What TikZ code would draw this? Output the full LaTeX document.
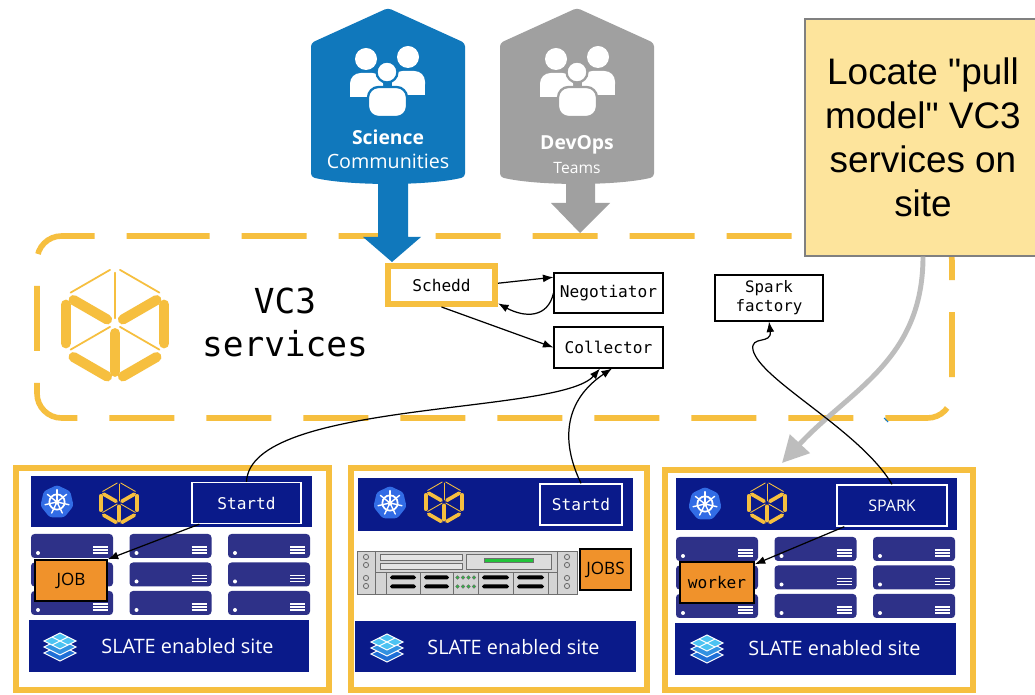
\documentclass[tikz,border=0pt]{standalone}
\usepackage{fontspec}
\setmainfont{Open Sans}
\setsansfont{Open Sans}
\setmonofont{DejaVu Sans Mono}
\newfontfamily\notefont{Liberation Sans}
\usetikzlibrary{arrows.meta,calc,positioning}

\definecolor{vcyellow}{HTML}{F6BF3F}
\definecolor{sciblue}{HTML}{1078BC}
\definecolor{devgrey}{HTML}{A0A0A0}
\definecolor{sitenavy}{HTML}{0A1A8A}
\definecolor{slotnavy}{HTML}{2E3188}
\definecolor{joborange}{HTML}{F0922B}
\definecolor{notefill}{HTML}{FDE49C}
\definecolor{notegrey}{HTML}{808080}
\definecolor{pullgrey}{HTML}{BDBDBD}
\definecolor{kubeblue}{HTML}{326CE5}
\definecolor{slatecyan}{HTML}{4CC3F2}
\definecolor{slateblue}{HTML}{1F6FD6}
\definecolor{rackgrey}{HTML}{D4D4D4}
\definecolor{rackline}{HTML}{6E6E6E}
\definecolor{ledgreen}{HTML}{22C33A}

% hexagon logo: centre, radius, bar width, hairline width
\newcommand\vclogo[4]{%
  \begin{scope}[shift={#1}, vcyellow, line cap=round]
    \foreach \a/\b in {270/210,270/330}
      \draw[line width=#4] ($(\a:#2)!.1!(\b:#2)$) -- ($(\a:#2)!.9!(\b:#2)$);
    \foreach \a in {270,150,30}
      \draw[line width=#4] ({\a}:{.1*#2}) -- ({\a}:{.9*#2});
    \foreach \a/\b in {210/150,330/30,150/90,90/30}
      \draw[line width=#3] ($(\a:#2)!.16!(\b:#2)$) -- ($(\a:#2)!.84!(\b:#2)$);
    \foreach \a in {210,330,90}
      \draw[line width=#3] ({\a}:{.16*#2}) -- ({\a}:{.84*#2});
  \end{scope}}

\newcommand\kubelogo[2]{%
  \begin{scope}[shift={#1}]
    \fill[kubeblue, rounded corners=1.5pt] (270:#2) \foreach \k in {1,...,6}{ -- ({270+\k*360/7}:#2)} -- cycle;
    \draw[white, line width=1pt] (0,0) circle[radius={.45*#2}];
    \foreach \k in {0,...,6}
      \draw[white, line width=.8pt, line cap=round] (0,0) -- ({270+\k*360/7}:{.72*#2});
    \fill[white] (0,0) circle[radius={.14*#2}];
  \end{scope}}

\newcommand\slatelogo[1]{%
  \begin{scope}[shift={#1}, line width=.6pt, draw=white]
    \filldraw[fill=slateblue] (-16,7) -- (0,-1) -- (16,7) -- (0,15) -- cycle;
    \filldraw[fill=slateblue!60!slatecyan] (-16,1) -- (0,-7) -- (16,1) -- (0,9) -- cycle;
    \filldraw[fill=slatecyan] (-16,-5) -- (0,-13) -- (16,-5) -- (0,3) -- cycle;
    \draw (-8,-9) -- (8,-1) (8,-9) -- (-8,-1);
  \end{scope}}

\newcommand\slotgrid[1]{%
  \begin{scope}[shift={#1}]
    \foreach \c in {0,1,2}
      \foreach \r in {0,1,2} {
        \begin{scope}[shift={({98.5*\c},{28.5*\r})}]
          \fill[slotnavy, rounded corners=2pt] (0,0) rectangle (82,24);
          \fill[white] (7,19) circle[radius=2];
          \foreach \s in {13,16,19}
            \draw[white, line width=1pt] (62,\s) -- (77,\s);
        \end{scope}}
  \end{scope}}

\newcommand\rackserver[1]{%
  \begin{scope}[shift={#1}, draw=rackline, line width=.5pt]
    \filldraw[fill=rackgrey] (0,0) rectangle (220,43);
    \draw (18,0) -- (18,43) (200,0) -- (200,43) (18,21) -- (200,21);
    \foreach \y in {6,14,27,35}
      \draw (9,\y) circle[radius=2.6] (210,\y) circle[radius=2.6];
    \filldraw[fill=rackgrey!60] (23,3) rectangle (105,9) (23,12) rectangle (105,18);
    \filldraw[fill=rackgrey!80!white] (109,3) rectangle (194,18);
    \filldraw[fill=ledgreen] (127,7) rectangle (176,11);
    \draw (29,21) -- (29,43) (63,21) -- (63,43) (96,21) -- (96,43)
          (121,21) -- (121,43) (156,21) -- (156,43) (191,21) -- (191,43);
    \foreach \a/\b in {29/63,63/96,121/156,156/191}
      \foreach \y in {26.5,35.5}
        \fill[black, rounded corners=1pt] ({\a+4},{\y-2}) rectangle ({\b-4},{\y+2});
    \foreach \x in {100.5,106,111.5,117}
      \foreach \y in {26.5,35.5}
        \filldraw[fill=ledgreen, line width=.3pt] (\x,\y) circle[radius=1.8];
  \end{scope}}

\newcommand\teambadge[2]{%
  \fill[#2, rounded corners=2pt] (#1,8) -- ({#1+77},43) -- ({#1+77},177)
    .. controls ({#1+40},186) and ({#1-40},186) .. ({#1-77},177) -- ({#1-77},43) -- cycle;}

\newcommand\peopleicon[2]{%
  \begin{scope}[shift={(#1,0)}, white]
    \fill (-21,59) circle[radius=11];
    \fill (21,57) circle[radius=11];
    \fill[rounded corners=6pt] (-37,73) rectangle (-4,97);
    \fill (-37,86) rectangle (-4,97);
    \fill[rounded corners=6pt] (5,71) rectangle (38,95);
    \fill (5,84) rectangle (38,95);
    \filldraw[draw=#2, line width=1.3pt, rounded corners=6pt] (-19,87) rectangle (20,117);
    \filldraw[draw=#2, line width=1.3pt] (0,72) circle[radius=10.5];
  \end{scope}}

\begin{document}
\begin{tikzpicture}[x=0.02cm, y=-0.02cm,
  svc/.style={draw, line width=.6pt, fill=white, inner sep=0pt,
    font=\ttfamily\fontsize{9.2}{11}\selectfont},
  sched/.style={svc, draw=vcyellow, line width=3.4pt},
  agent/.style={draw=white, line width=.8pt, fill=sitenavy, text=white, inner sep=0pt,
    minimum height=.82cm, font=\ttfamily\fontsize{9.2}{11}\selectfont},
  jobbox/.style={draw=black, line width=.8pt, fill=joborange, inner sep=0pt, minimum height=.82cm},
  siteframe/.style={draw=vcyellow, line width=3.4pt, fill=white},
  banner/.style={fill=sitenavy},
  slatetext/.style={text=white, anchor=west, inner sep=0pt, font=\fontsize{11.3}{13}\selectfont},
  teamtext/.style={white, inner sep=0pt},
  notebox/.style={draw=notegrey, line width=.7pt, fill=notefill, align=center,
    minimum width=4.72cm, minimum height=4.74cm, font=\notefont\fontsize{21}{25}\selectfont},
  link/.style={-{Latex[length=6pt,width=4.5pt]}, line width=.7pt}
]
\useasboundingbox (0,0) rectangle (1035,695);
\clip (0,0) rectangle (1035,695);
\fill[white] (0,0) rectangle (1035,695);

% services area
\draw[vcyellow, line width=3.2pt, dash pattern=on 37pt off 18.2pt, rounded corners=14pt]
  (120,236) -- (952,236) -- (952,418) -- (37,418) -- (37,236) -- cycle;
\vclogo{(115,324)}{57}{5.7pt}{1pt}
\node[font=\ttfamily\fontsize{19.6}{24.5}\selectfont, align=center] (vcname) at (285,322) {VC3\\services};

% user groups
\teambadge{388}{sciblue}
\fill[sciblue] (378,175) -- (378,237) -- (363,237) -- (392,262) -- (421,237) -- (408,237) -- (408,175) -- cycle;
\peopleicon{387}{sciblue}
\node[teamtext, font=\bfseries\fontsize{11}{13}\selectfont] (scitop) at (388,137) {Science};
\node[teamtext, font=\fontsize{11.2}{13}\selectfont] (scibot) at (388,161) {Communities};

\teambadge{577}{devgrey}
\fill[devgrey] (566,175) -- (566,203) -- (551,203) -- (580,233) -- (610,203) -- (595,203) -- (595,175) -- cycle;
\peopleicon{577}{devgrey}
\node[teamtext, font=\bfseries\fontsize{11}{13}\selectfont] (devtop) at (577,145) {DevOps};
\node[teamtext, font=\fontsize{8.9}{11}\selectfont] (devbot) at (577,168) {Teams};

\node[notebox] (pullnote) at (923,137.5) {Locate "pull\\model" VC3\\services on\\site};

\node[sched, minimum width=2.14cm, minimum height=.76cm] (schedd) at (441.5,285) {Schedd};
\node[svc, minimum width=2.18cm, minimum height=.8cm] (negot) at (608.5,293) {Negotiator};
\node[svc, minimum width=2.18cm, minimum height=.82cm, below of=negot, node distance=1.09cm] (collect) {Collector};
\node[svc, align=center, minimum width=2.16cm, minimum height=.92cm,
  font=\ttfamily\fontsize{9}{10.8}\selectfont] (sparkf) at (769,298) {Spark\\factory};

\draw[link] ([yshift=1pt]schedd.east) -- (negot.164);
\draw[link] (negot.west) .. controls (548,318) and (525,318) .. (schedd.-18);
\draw[link] (schedd.south) -- (collect.west);

% sites
\draw[siteframe] (16,468) rectangle (329,690);
\draw[siteframe] (351,468) rectangle (647,690);
\draw[siteframe] (665,470) rectangle (973,690);

\fill[banner] (31,476) rectangle (312,527);
\fill[banner] (29,620) rectangle (309,672);
\fill[banner] (358,478) rectangle (633,531);
\fill[banner] (355,621) rectangle (636,672);
\fill[banner] (676,478) rectangle (957,530);
\fill[banner] (675,623) rectangle (956,675);

\kubelogo{(57,502)}{17}
\vclogo{(119,503)}{21}{2.1pt}{.5pt}
\kubelogo{(390,503)}{17}
\vclogo{(444,502)}{21}{2.1pt}{.5pt}
\kubelogo{(705,504)}{17}
\vclogo{(767,503)}{21}{2.1pt}{.5pt}

\slatelogo{(60,646)}
\slatelogo{(387,647)}
\slatelogo{(707,648)}
\node[slatetext] (slateA) at (101,646) {SLATE enabled site};
\node[slatetext] (slateB) at (427,647) {SLATE enabled site};
\node[slatetext] (slateC) at (748,648) {SLATE enabled site};

\slotgrid{(31,534)}
\slotgrid{(676,537)}
\rackserver{(357,551)}

\node[agent, minimum width=2.18cm] (startdA) at (246.5,503) {Startd};
\node[agent, minimum width=1.64cm] (startdB) at (581,504.5) {Startd};
\node[agent, minimum width=2.2cm, font=\fontsize{9.1}{11}\selectfont] (spark) at (892,505.5) {SPARK};
\node[jobbox, minimum width=1.44cm, font=\fontsize{9.7}{11}\selectfont] (jobA) at (71,580.5) {JOB};
\node[jobbox, minimum width=1.02cm, font=\fontsize{9.7}{11}\selectfont] (jobsB) at (605.5,569.5) {JOBS};
\node[jobbox, minimum width=1.48cm, font=\ttfamily\fontsize{9.2}{11}\selectfont] (worker) at (717,582.5) {worker};

\draw[link] ([xshift=.16cm]startdA.south west) -- (jobA.north east);
\draw[link] ([xshift=.16cm]spark.south west) -- ([yshift=-.06cm]worker.north east);

% pull arrow
\coordinate (pullend) at (782,463);
\draw[pullgrey, line width=2.8pt, -{Triangle[length=15pt,width=15pt]}]
  (pullnote.south) .. controls (923,360) and (850,390) .. (pullend);
\draw[cyan!60!blue, line width=.6pt] (884,418) -- (888,422);

\draw[link] (startdA.north) .. controls (250,400) and (560,415) .. ([xshift=-.17cm]collect.south);
\draw[link] (startdB.north) .. controls (560,440) and (565,400) .. ([xshift=.07cm]collect.south);
\draw[link] (spark.north) .. controls (860,430) and (760,380) .. (753,350)
  .. controls (750,335) and (772,345) .. (sparkf.south);
\end{tikzpicture}
\end{document}
